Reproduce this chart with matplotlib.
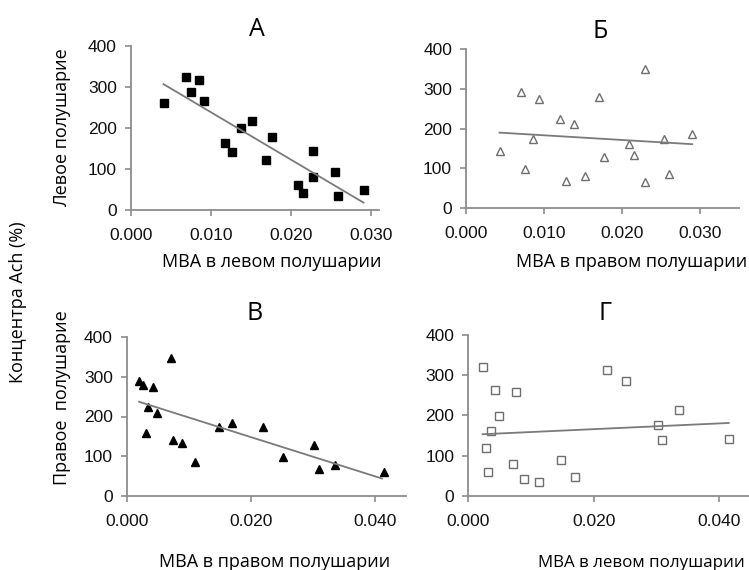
import numpy as np
import matplotlib
matplotlib.use("Agg")
from matplotlib import pyplot as plt

# панель А: МВА в левом полушарии / левое полушарие
a_x = [0.0041, 0.0069, 0.0075, 0.0085, 0.0091, 0.0118, 0.0127, 0.0138, 0.0152,
       0.0169, 0.0176, 0.0209, 0.0215, 0.0228, 0.0228, 0.0255, 0.0259, 0.0291]
a_y = [260, 324, 289, 317, 265, 164, 141, 200, 216, 122, 177, 61, 42, 143, 81, 92, 33, 49]
a_fit_x = [0.0041, 0.0291]
a_fit_y = [307, 18]

# панель Б: МВА в правом полушарии / левое полушарие
b_x = [0.0043, 0.0070, 0.0076, 0.0086, 0.0093, 0.0120, 0.0128, 0.0139, 0.0153,
       0.0170, 0.0177, 0.0209, 0.0215, 0.0229, 0.0229, 0.0254, 0.0260, 0.0290]
b_y = [144, 293, 99, 175, 274, 225, 69, 211, 81, 280, 130, 161, 134, 350, 67, 175, 87, 187]
b_fit_x = [0.0043, 0.0290]
b_fit_y = [190, 161]

# панель В: МВА в правом полушарии / правое полушарие
c_x = [0.0020, 0.0027, 0.0043, 0.0035, 0.0048, 0.0031, 0.0072, 0.0075, 0.0089,
       0.0110, 0.0148, 0.0170, 0.0219, 0.0251, 0.0302, 0.0309, 0.0336, 0.0414]
c_y = [290, 278, 274, 223, 210, 159, 348, 141, 133, 86, 174, 184, 174, 97, 128, 67, 79, 60]
c_fit_x = [0.0020, 0.0411]
c_fit_y = [237, 44]

# панель Г: МВА в левом полушарии / правое полушарие
d_x = [0.0023, 0.0043, 0.0076, 0.0049, 0.0036, 0.0028, 0.0031, 0.0072, 0.0089,
       0.0112, 0.0148, 0.0170, 0.0221, 0.0251, 0.0302, 0.0309, 0.0335, 0.0415]
d_y = [320, 262, 258, 198, 161, 119, 59, 79, 41, 33, 89, 46, 314, 285, 176, 138, 213, 141]
d_fit_x = [0.0023, 0.0415]
d_fit_y = [153, 181]

W, H = 749, 570
fig = plt.figure(figsize=(W / 100, H / 100), dpi=100)

GRAY = "#8c8c8c"
TXT = "Open Sans"


def make_ax(x0, xlim, px_per_unit, y0, y400, xticks):
    # x0, y0 - пиксель начала координат, y400 - пиксель уровня 400
    w = xlim * px_per_unit
    h = y0 - y400
    ax = fig.add_axes([x0 / W, (H - y0) / H, w / W, h / H])
    ax.set_xlim(0, xlim)
    ax.set_ylim(0, 400)
    for s in ["top", "right"]:
        ax.spines[s].set_visible(False)
    for s in ["left", "bottom"]:
        ax.spines[s].set_color(GRAY)
        ax.spines[s].set_linewidth(1.3)
    ax.set_xticks(xticks)
    ax.set_xticklabels(["%.3f" % t for t in xticks])
    ax.set_yticks([0, 100, 200, 300, 400])
    ax.tick_params(color=GRAY, width=1.2, length=4, labelsize=12.5,
                   labelcolor="#111111")
    ax.tick_params(axis="x", pad=9)
    ax.tick_params(axis="y", pad=6)
    for lab in ax.get_xticklabels() + ax.get_yticklabels():
        lab.set_family("Liberation Sans")
    return ax


ax_a = make_ax(130.7, 0.031, 8000, 210, 46, [0.0, 0.01, 0.02, 0.03])
ax_b = make_ax(466, 0.035, 7800, 208.3, 49, [0.0, 0.01, 0.02, 0.03])
ax_c = make_ax(126.7, 0.045, 6210, 496, 337, [0.0, 0.02, 0.04])
ax_d = make_ax(468.3, 0.0447, 6275, 495.7, 335, [0.0, 0.02, 0.04])

ax_a.plot(a_x, a_y, "s", color="black", ms=5.5, clip_on=False)
ax_a.plot(a_fit_x, a_fit_y, color="#7a7a7a", lw=1.3)

ax_b.plot(b_x, b_y, "^", mfc="white", mec="#6e6e6e", mew=1.0, ms=6, clip_on=False)
ax_b.plot(b_fit_x, b_fit_y, color="#7a7a7a", lw=1.3)

ax_c.plot(c_x, c_y, "^", color="black", ms=6, clip_on=False)
ax_c.plot(c_fit_x, c_fit_y, color="#7a7a7a", lw=1.3)

ax_d.plot(d_x, d_y, "s", mfc="white", mec="#6e6e6e", mew=1.0, ms=5.5, clip_on=False)
ax_d.plot(d_fit_x, d_fit_y, color="#7a7a7a", lw=1.3)


def ftext(x, y, s, ha="center", **kw):
    fig.text(x / W, 1 - y / H, s, ha=ha, va="center", family=TXT, **kw)


# заголовки панелей
ftext(257, 30, "А", fontsize=18)
ftext(600, 32, "Б", fontsize=18)
ftext(255, 313, "В", fontsize=18)
ftext(605, 313, "Г", fontsize=18)

# подписи осей
ftext(272, 262, "МВА в левом полушарии", fontsize=13)
ftext(747, 262, "МВА в правом полушарии", ha="right", fontsize=13)
ftext(275, 562, "МВА в правом полушарии", fontsize=13)
ftext(745, 563, "МВА в левом полушарии", ha="right", fontsize=12.2)

ftext(62, 128, "Левое полушарие", fontsize=13, rotation=90)
ftext(62, 398, "Правое  полушарие", fontsize=13, rotation=90)
ftext(18, 302, "Концентра Ach (%)", fontsize=13, rotation=90)

fig.savefig("out.png", dpi=100, facecolor="white")
